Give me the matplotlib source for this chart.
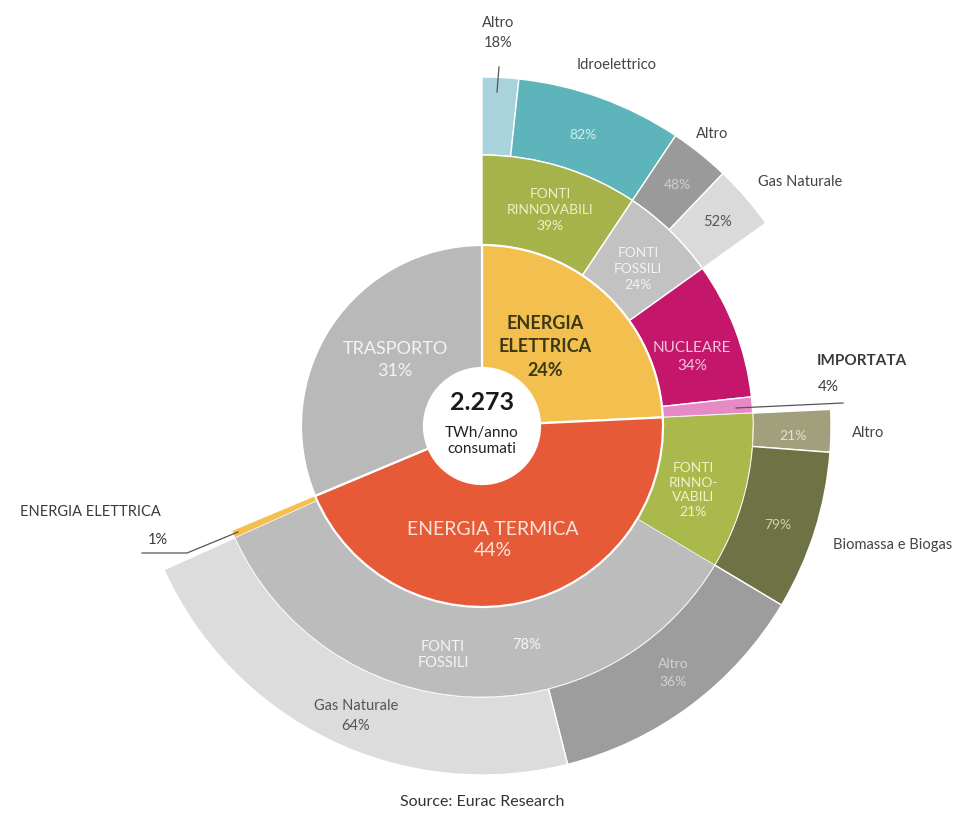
import matplotlib.pyplot as plt
from matplotlib.patches import Wedge, Circle

plt.rcParams['font.family'] = ['Lato', 'DejaVu Sans']

# dati
main_names = ['ENERGIA ELETTRICA', 'ENERGIA TERMICA', 'TRASPORTO']
main_vals = [24, 44, 31]

el_names = ['FONTI RINNOVABILI', 'FONTI FOSSILI', 'NUCLEARE', 'IMPORTATA']
el_vals = [39, 24, 34, 4]

th_names = ['FONTI RINNOVABILI', 'FONTI FOSSILI', 'ENERGIA ELETTRICA']
th_vals = [21, 78, 1]

el_ren_names = ['Altro', 'Idroelettrico']
el_ren_vals = [18, 82]
el_fos_names = ['Altro', 'Gas Naturale']
el_fos_vals = [48, 52]
th_ren_names = ['Altro', 'Biomassa e Biogas']
th_ren_vals = [21, 79]
th_fos_names = ['Altro', 'Gas Naturale']
th_fos_vals = [36, 64]

total = '2.273'

# colori
main_colors = ['#f3c04f', '#e65a38', '#b9b9b9']
el_colors = ['#a6b24a', '#c2c2c2', '#c4176c', '#e58ac5']
th_colors = ['#a9b94c', '#bcbcbc', '#f3c04f']
el_ren_colors = ['#a8d3dc', '#5db5bb']
el_fos_colors = ['#9a9a9a', '#dadada']
th_ren_colors = ['#a19f7c', '#6e7245']
th_fos_colors = ['#9d9d9d', '#dcdcdc']

W, H = 960, 814
cx, cy = 482, H - 426
r0, r1, r2, r3 = 58, 181, 271, 349

fig = plt.figure(figsize=(9.6, 8.14), dpi=100)
ax = fig.add_axes([0, 0, 1, 1])
ax.set_xlim(0, W)
ax.set_ylim(0, H)
ax.set_aspect('equal')
ax.axis('off')


def split(start, end, vals):
    # da start verso end in senso orario
    span = start - end
    tot = sum(vals)
    out = []
    a = start
    for v in vals:
        d = span * v / tot
        out.append((a - d, a))
        a -= d
    return out


def ring(spans, colors, rin, rout, lw=1.0):
    for (t1, t2), c in zip(spans, colors):
        ax.add_patch(Wedge((cx, cy), rout, t1, t2, width=rout - rin,
                           facecolor=c, edgecolor='white', linewidth=lw))


main_sp = split(90, -270, main_vals)
el_sp = split(main_sp[0][1], main_sp[0][0], el_vals)
th_sp = split(main_sp[1][1], main_sp[1][0], th_vals)

ring(split(el_sp[0][1], el_sp[0][0], el_ren_vals), el_ren_colors, r2, r3)
ring(split(el_sp[1][1], el_sp[1][0], el_fos_vals), el_fos_colors, r2, r3)
ring(split(th_sp[0][1], th_sp[0][0], th_ren_vals), th_ren_colors, r2, r3)
ring(split(th_sp[1][1], th_sp[1][0], th_fos_vals), th_fos_colors, r2, r3)
ring(el_sp, el_colors, r1, r2)
ring(th_sp, th_colors, r1, r2, lw=0.4)
ring(main_sp, main_colors, r0, r1, lw=1.6)
ax.add_patch(Circle((cx, cy), r0, facecolor='white', edgecolor='none'))


def T(x, y, s, **kw):
    kw.setdefault('ha', 'center')
    kw.setdefault('va', 'center')
    kw.setdefault('fontsize', 10.5)
    kw.setdefault('color', '#444444')
    ax.text(x, H - y, s, **kw)


def L(xs, ys):
    ax.plot(xs, [H - y for y in ys], color='#555555', lw=0.9)


# etichette interne
T(395, 360, 'TRASPORTO\n31%', fontsize=13, color='#f4f4f4', linespacing=1.4)
T(545, 347, 'ENERGIA\nELETTRICA\n24%', fontsize=13, fontweight='bold', color='#3b3816', linespacing=1.45)
T(493, 540, 'ENERGIA TERMICA\n44%', fontsize=14, color='#fbe3d8', linespacing=1.35)
T(482, 403, total, fontsize=18, fontweight='bold', color='#1a1a1a')
T(482, 441, 'TWh/anno\nconsumati', fontsize=11, color='#222222', linespacing=1.2)

T(550, 210, 'FONTI\nRINNOVABILI\n39%', fontsize=10, color='#eef0c8', linespacing=1.4)
T(638, 269, 'FONTI\nFOSSILI\n24%', fontsize=10, color='#f2f2f2', linespacing=1.4)
T(692, 357, 'NUCLEARE\n34%', fontsize=11, color='#f3c3dd', linespacing=1.4)
T(583, 135, '82%', fontsize=10, color='#d4ecee')
T(677, 185, '48%', fontsize=10, color='#cfcfcf')
T(717, 222, '52%', fontsize=10.5, color='#555555')
T(693, 490, 'FONTI\nRINNO-\nVABILI\n21%', fontsize=10, color='#f0f2c8', linespacing=1.25)
T(793, 436, '21%', fontsize=10, color='#e2e2d2')
T(778, 525, '79%', fontsize=10, color='#cfcfa8')
T(443, 655, 'FONTI\nFOSSILI', fontsize=10.5, color='#f4f4f4', linespacing=1.1)
T(527, 645, '78%', fontsize=10.5, color='#f4f4f4')
T(673, 673, 'Altro\n36%', fontsize=10, color='#d2d2d2', linespacing=1.5)
T(356, 716, 'Gas Naturale\n64%', fontsize=10.5, color='#555555', linespacing=1.6)

# etichette esterne
T(498, 33, 'Altro\n18%', linespacing=1.5)
L([499, 497], [67, 92])
T(617, 65, 'Idroelettrico')
T(712, 134, 'Altro')
T(800, 182, 'Gas Naturale')
T(862, 361, 'IMPORTATA', fontsize=11, fontweight='bold', color='#3a3a3a')
T(828, 387, '4%', fontsize=11, color='#3a3a3a')
L([736, 843], [408, 403])
T(868, 433, 'Altro')
T(893, 545, 'Biomassa e Biogas')
T(90, 512, 'ENERGIA ELETTRICA', fontsize=10.5, color='#3a3a3a')
T(158, 540, '1%', fontsize=10.5, color='#3a3a3a')
L([142, 187, 238], [553, 553, 532])

T(482, 802, 'Source: Eurac Research', fontsize=11.5, color='#333333')

fig.savefig('out.png', dpi=100)
